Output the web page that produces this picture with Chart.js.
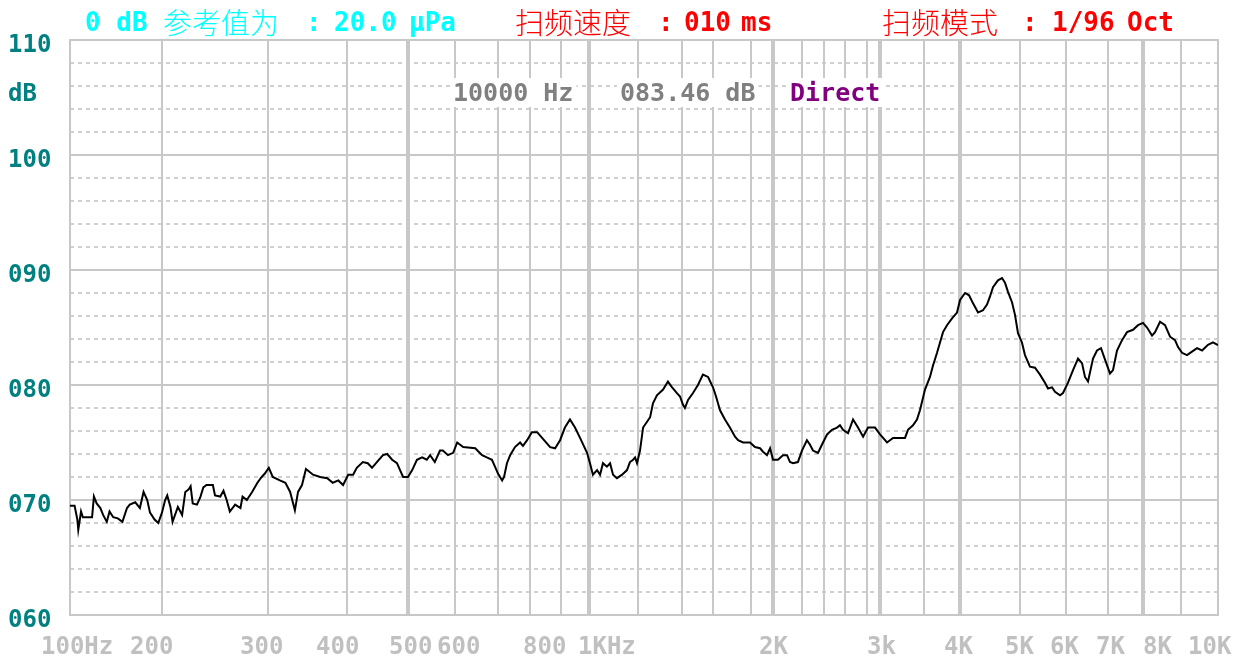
<!DOCTYPE html>
<html><head><meta charset="utf-8">
<script src="https://cdn.jsdelivr.net/npm/chart.js@4.4.1/dist/chart.umd.min.js"></script>
<style>html,body{margin:0;padding:0;background:#fff;overflow:hidden}#wrap{width:1246px;height:664px}</style>
</head><body><div id="wrap"><canvas id="c" width="1246" height="664"></canvas></div>
<script>
// ---- data ----
const freqHz = [100,105,108,109,112,114,124,126,129,133,136,140,143,147,152,157,162,165,171,176,180,184,187,192,196,200,
203,205,208,210,215,219,222,225,227,229,233,236,239,242,248,250,255,258,261,264,269,274,276,280,285,290,294,297,
301,306,315,322,328,334,338,343,348,357,366,375,382,389,395,402,410,416,426,434,441,449,459,466,474,482,487,492,500,
509,519,530,540,547,557,568,574,585,596,605,619,647,663,674,686,693,700,713,719,728,738,753,769,778,791,806,823,839,
865,881,897,914,932,950,968,993,1004,1016,1033,1045,1057,1073,1086,1098,1114,1135,1155,1167,1180,1188,1196,1209,
1223,1241,1255,1268,1286,1314,1336,1355,1377,1391,1406,1419,1439,1471,1503,1535,1568,1600,1616,1637,1663,1689,1716,
1732,1758,1795,1836,1882,1909,1945,1973,2000,2034,2069,2097,2117,2138,2172,2200,2245,2273,2300,2345,2391,2429,2476,
2524,2552,2581,2627,2673,2718,2764,2815,2923,3000,3080,3148,3284,3318,3375,3420,3454,3514,3583,3625,3681,3722,3764,
3819,3889,3958,4000,4083,4150,4217,4300,4383,4450,4500,4550,4633,4700,4750,4800,4867,4917,4967,5043,5109,5217,5326,
5435,5543,5609,5696,5761,5870,5935,6048,6167,6286,6381,6452,6524,6643,6738,6833,6929,7057,7143,7257,7400,7543,7714,
7857,8000,8105,8237,8316,8447,8579,8711,8842,8921,9027,9162,9297,9432,9568,9730,9865,10000];
const levelDb = [69.5,69.5,68.3,67.4,69.0,68.5,68.5,70.3,69.7,69.3,68.7,68.1,69.0,68.5,68.4,68.1,69.3,69.6,69.8,69.3,70.7,70.0,68.9,68.3,68.0,68.9,
70.0,70.4,69.4,68.1,69.4,68.7,70.7,70.9,71.2,69.7,69.6,70.2,71.1,71.3,71.3,70.4,70.3,70.8,70.0,69.0,69.6,69.3,70.3,70.0,70.7,71.5,72.0,72.3,
72.8,72.0,71.7,71.5,70.7,69.1,70.7,71.3,72.7,72.2,72.0,71.9,71.5,71.7,71.3,72.2,72.2,72.8,73.3,73.2,72.8,73.3,73.9,74.0,73.5,73.2,72.6,72.0,72.0,
72.6,73.5,73.7,73.5,73.9,73.3,74.3,74.3,73.9,74.1,75.0,74.6,74.5,73.9,73.7,73.5,72.9,72.3,71.7,72.0,73.2,73.9,74.6,75.0,74.7,75.2,75.9,75.9,75.4,
74.6,74.5,75.2,76.3,77.0,76.3,75.4,74.1,73.2,72.2,72.6,72.2,73.2,72.9,73.2,72.2,71.9,72.2,72.6,73.3,73.5,73.7,73.2,74.3,
76.3,76.8,77.2,78.4,79.1,79.6,80.3,79.8,79.3,79.0,78.3,78.0,78.7,79.3,80.0,80.9,80.7,79.8,79.0,77.8,77.0,76.3,75.5,
75.2,75.0,75.0,74.6,74.5,74.2,73.9,74.5,73.5,73.5,73.9,73.9,73.3,73.2,73.3,74.3,75.2,74.8,74.3,74.1,75.0,75.7,76.1,
76.3,76.5,76.1,75.8,77.0,76.3,75.5,76.3,76.3,75.7,75.0,75.4,75.4,76.1,76.5,77.0,77.8,79.6,80.7,81.7,82.8,83.7,84.6,
85.2,85.8,86.3,87.4,88.0,87.8,87.1,86.3,86.5,87.0,87.7,88.5,89.1,89.3,88.9,88.1,87.2,86.1,84.5,83.7,82.6,81.6,81.5,
80.9,80.2,79.7,79.8,79.4,79.1,79.3,80.2,81.3,82.3,81.9,80.7,80.3,82.3,83.0,83.2,82.2,81.0,81.3,83.0,83.9,84.6,84.8,
85.2,85.4,85.0,84.3,84.6,85.5,85.2,84.2,83.9,83.3,82.8,82.6,82.9,83.2,83.0,83.5,83.7,83.46];

// ---- axis definition (frequency grid of the analyser) ----
const xGridHz = [100,200,300,400,500,600,700,800,900,1000,1200,1400,1600,1800,2000,2200,2400,2600,2800,3000,3500,4000,5000,6000,7000,8000,9000,10000];
const xGridPos = [0,0.0801,0.1725,0.2413,0.2944,0.3354,0.3728,0.4007,0.4277,0.4521,0.4948,0.5331,0.5601,0.5932,0.6124,0.6376,0.6568,0.6751,0.6943,0.7056,0.7439,0.7753,0.8275,0.8676,0.9042,0.9347,0.9678,1];
const xThickHz = [500,1000,2000,3000,4000,8000];
const xTickHz = [100,200,300,400,500,600,800,1000,2000,3000,4000,5000,6000,7000,8000,10000];
const xTickText = ['100Hz','200','300','400','500','600','800','1KHz','2K','3k','4K','5K','6K','7K','8K','10K'];
const yTickDb = [60,70,80,90,100,110];
const yTickText = ['060','070','080','090','100','110'];

const MONO = '"DejaVu Sans Mono","Liberation Mono",monospace';
const CJK = '"Noto Sans CJK SC","Noto Sans CJK JP",sans-serif';

class KnotScale extends Chart.LinearScale {
  buildTicks() {
    this.min = xGridHz[0];
    this.max = xGridHz[xGridHz.length - 1];
    return xGridHz.map(v => ({ value: v }));
  }
  _frac(v) {
    const k = xGridHz, p = xGridPos;
    if (v <= k[0]) return p[0];
    for (let i = 1; i < k.length; i++) {
      if (v <= k[i]) return p[i - 1] + (v - k[i - 1]) / (k[i] - k[i - 1]) * (p[i] - p[i - 1]);
    }
    return p[p.length - 1];
  }
  getPixelForValue(v) { return this.getPixelForDecimal(this._frac(v)); }
  getValueForPixel(px) {
    const d = this.getDecimalForPixel(px), k = xGridHz, p = xGridPos;
    if (d <= p[0]) return k[0];
    for (let i = 1; i < p.length; i++) {
      if (d <= p[i]) return k[i - 1] + (d - p[i - 1]) / (p[i] - p[i - 1]) * (k[i] - k[i - 1]);
    }
    return k[k.length - 1];
  }
}
KnotScale.id = 'knot';
KnotScale.defaults = {};
Chart.register(KnotScale);

const GRID = '#c8c8c8';
const xLabelShift = [-29,-32,-28,-31,-19,-18,-7,-11,-14,-13,-16,-15,-16,-12,0,-30];

const gridPlugin = {
  id: 'analyserGrid',
  beforeDatasetsDraw(chart) {
    const { ctx, chartArea: a, scales: { x, y } } = chart;
    ctx.save();
    // minor dashed
    ctx.strokeStyle = '#d0d0d0';
    ctx.lineWidth = 2;
    ctx.setLineDash([4, 4]);
    y.ticks.forEach(t => {
      if (Math.round(t.value) % 10 === 0) return;
      const py = Math.round(y.getPixelForValue(t.value));
      ctx.beginPath(); ctx.moveTo(a.left, py); ctx.lineTo(a.right, py); ctx.stroke();
    });
    ctx.setLineDash([]);
    ctx.strokeStyle = GRID;
    // verticals
    xGridHz.forEach(f => {
      const px = Math.round(x.getPixelForValue(f));
      ctx.lineWidth = xThickHz.includes(f) ? 4 : 2;
      ctx.beginPath(); ctx.moveTo(px, a.top - 1); ctx.lineTo(px, a.bottom + 1); ctx.stroke();
    });
    // majors
    ctx.lineWidth = 2;
    y.ticks.forEach(t => {
      if (Math.round(t.value) % 10 !== 0) return;
      const py = Math.round(y.getPixelForValue(t.value));
      ctx.beginPath(); ctx.moveTo(a.left - 1, py); ctx.lineTo(a.right + 1, py); ctx.stroke();
    });
    ctx.restore();
  },
  afterDraw(chart) {
    const { ctx, scales: { x, y } } = chart;
    ctx.save();
    ctx.textBaseline = 'alphabetic';
    ctx.textAlign = 'left';
    // y labels
    ctx.font = 'bold 24px ' + MONO;
    ctx.fillStyle = '#008080';
    yTickDb.forEach((v, i) => {
      ctx.fillText(yTickText[i], 8, Math.round(y.getPixelForValue(v)) + 12);
    });
    ctx.fillText('dB', 8, 101);
    // x labels
    ctx.font = 'bold 24px ' + MONO;
    ctx.fillStyle = '#c0c0c0';
    xTickHz.forEach((f, i) => {
      ctx.fillText(xTickText[i], Math.round(x.getPixelForValue(f)) + xLabelShift[i], 654);
    });
    // header
    const tok = (t, px, font, col, base) => { ctx.font = font; ctx.fillStyle = col; ctx.fillText(t, px, base); };
    const A = 'bold 26px ' + MONO, C = '300 29px ' + CJK;
    tok('0 dB', 85, A, '#00ffff', 31);
    tok('参考值为', 163, C, '#00ffff', 34);
    tok(':', 306, A, '#00ffff', 31);
    tok('20.0', 334, A, '#00ffff', 31);
    tok('μPa', 409, A, '#00ffff', 31);
    tok('扫频速度', 515, C, '#ff0000', 34);
    tok(':', 658, A, '#ff0000', 31);
    tok('010', 684, A, '#ff0000', 31);
    tok('ms', 741, A, '#ff0000', 31);
    tok('扫频模式', 882, C, '#ff0000', 34);
    tok(':', 1022, A, '#ff0000', 31);
    tok('1/96', 1052, A, '#ff0000', 31);
    tok('Oct', 1127, A, '#ff0000', 31);
    // cursor readout (last point)
    const n = freqHz.length - 1;
    const readout = [
      [freqHz[n] + ' Hz', 453, '#808080'],
      [levelDb[n].toFixed(2).padStart(6, '0') + ' dB', 620, '#808080'],
      ['Direct', 790, '#800080']
    ];
    ctx.font = 'bold 25px ' + MONO;
    readout.forEach(([t, px, col]) => {
      const w = ctx.measureText(t).width;
      ctx.fillStyle = '#ffffff';
      ctx.fillRect(px - 3, 78, w + 6, 29);
      ctx.fillStyle = col;
      ctx.fillText(t, px, 101);
    });
    ctx.restore();
  }
};

function build() {
  new Chart(document.getElementById('c').getContext('2d'), {
    type: 'line',
    data: {
      datasets: [{
        data: freqHz.map((f, i) => ({ x: f, y: levelDb[i] })),
        borderColor: '#000000',
        borderWidth: 2,
        pointRadius: 0,
        tension: 0,
        fill: false
      }]
    },
    options: {
      responsive: false,
      animation: false,
      devicePixelRatio: 1,
      layout: { padding: { left: 70, right: 28, top: 40, bottom: 49 } },
      plugins: { legend: { display: false }, tooltip: { enabled: false } },
      scales: {
        x: { type: 'knot', display: false, min: 100, max: 10000 },
        y: { type: 'linear', display: false, min: 60, max: 110, ticks: { stepSize: 2 } }
      }
    },
    plugins: [gridPlugin]
  });
}
const fontsReady = document.fonts ? Promise.all([
  document.fonts.load('bold 24px "DejaVu Sans Mono"'),
  document.fonts.load('300 29px "Noto Sans CJK SC"', '参考值为扫频速度模式')
]).catch(() => {}) : Promise.resolve();
Promise.race([fontsReady, new Promise(r => setTimeout(r, 800))]).then(build);
</script>
</body></html>
